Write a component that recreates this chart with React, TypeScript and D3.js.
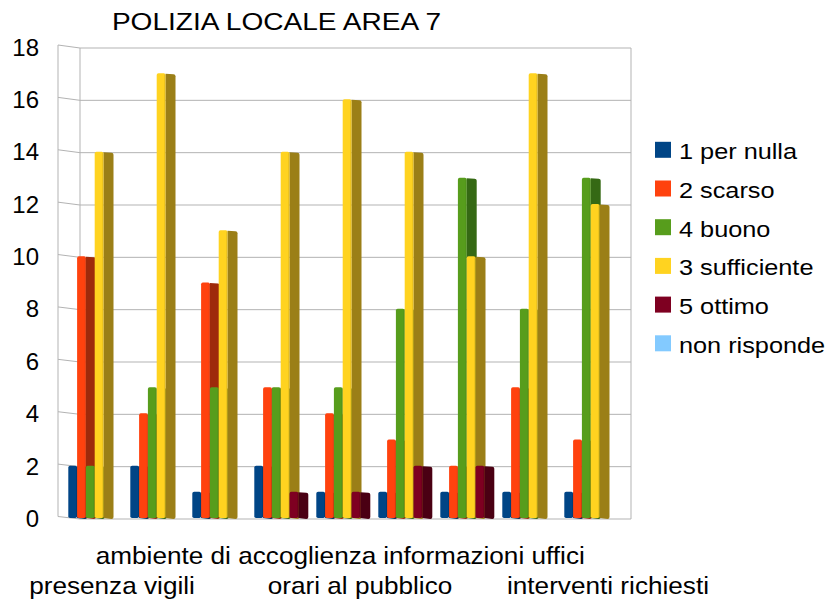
import React from "react";
import * as d3 from "d3";

const title = "POLIZIA LOCALE AREA 7";
const categories = ["presenza vigili", "", "ambiente di accoglienza", "", "orari al pubblico", "", "informazioni uffici", "", "interventi richiesti"];
const seriesNames = ["1 per nulla", "2 scarso", "4 buono", "3 sufficiente", "5 ottimo", "non risponde"];
const perNulla = [2, 2, 1, 2, 1, 1, 1, 1, 1];
const scarso = [10, 4, 9, 5, 4, 3, 2, 5, 3];
const buono = [2, 5, 5, 5, 5, 8, 13, 8, 13];
const sufficiente = [14, 17, 11, 14, 16, 14, 10, 17, 12];
const ottimo = [0, 0, 0, 1, 1, 2, 2, 0, 0];
const nonRisponde = [0, 0, 0, 0, 0, 0, 0, 0, 0];
const yTicks = [0, 2, 4, 6, 8, 10, 12, 14, 16, 18];

const seriesValues = [perNulla, scarso, buono, sufficiente, ottimo, nonRisponde];
const frontColors = ["#004586", "#ff420e", "#579d1c", "#ffd320", "#7e0021", "#83caff"];
const sideColors = ["#002c57", "#9e2a0b", "#356914", "#9b7f17", "#4a0013", "#5a8ab0"];

const FONT = "'Liberation Sans', Arial, sans-serif";

export default function App() {
  const x = d3.scaleBand<number>().domain(d3.range(categories.length)).range([58, 616]).paddingInner(0).paddingOuter(0);
  const inner = d3.scaleBand<string>().domain(seriesNames).range([10.3, 10.3 + 6 * 8.8]);
  const yB = d3.scaleLinear().domain([0, 18]).range([519, 48]);
  const yF = d3.scaleLinear().domain([0, 18]).range([516.5, 45]);
  const yBar = d3.scaleLinear().domain([0, 18]).range([518, 47]);
  const wallL = 58, wallB = 80, wallR = 631;
  const depth = 10;
  const grid = "#b3b3b3";

  const bars: JSX.Element[] = [];
  categories.forEach((_, ci) => {
    seriesNames.forEach((s, si) => {
      const v = seriesValues[si][ci];
      if (!v) return;
      const x0 = (x(ci) as number) + (inner(s) as number);
      const w = inner.bandwidth();
      const x1 = x0 + w;
      const yt = yBar(v);
      const y0 = yBar(0);
      const side = `M${x1},${yt + 0.5} L${x1 + depth - 2},${yt + 1} Q${x1 + depth},${yt + 1.2} ${x1 + depth},${yt + 3} L${x1 + depth},${y0 - 1} Q${x1 + depth},${y0 + 1} ${x1 + depth - 2},${y0 + 1} L${x1},${y0} Z`;
      bars.push(
        <g key={`${ci}-${si}`}>
          <path d={side} fill={sideColors[si]} />
          <rect x={x0} y={yt} width={w} height={y0 - yt} rx={1.8} fill={frontColors[si]} />
          <line x1={x1 - 0.5} x2={x1 - 0.5} y1={yt + 1.5} y2={y0 - 1} stroke={sideColors[si]} strokeOpacity={0.35} strokeWidth={1} />
        </g>
      );
    });
  });

  return (
    <svg width={831} height={602} style={{ position: "absolute", left: 0, top: 0, background: "#fff" }} fontFamily={FONT}>
      <rect width={831} height={602} fill="#fff" />
      <g transform="translate(276.5,30) scale(1.17,1)">
        <text x={0} y={0} fontSize={24} textAnchor="middle" fill="#000">{title}</text>
      </g>

      {/* walls */}
      <g stroke={grid} strokeWidth={1} fill="none">
        {yTicks.map(t => (
          <g key={t}>
            <line x1={wallL} y1={yF(t)} x2={wallB} y2={yB(t)} />
            <line x1={wallB} y1={yB(t)} x2={wallR} y2={yB(t)} />
          </g>
        ))}
        <line x1={wallL} y1={yF(18)} x2={wallL} y2={yF(0)} />
        <line x1={wallB} y1={yB(18)} x2={wallB} y2={yB(0)} />
        <line x1={wallR} y1={yB(18)} x2={wallR} y2={yB(0)} />
      </g>

      {bars}

      {yTicks.map(t => (
        <text key={t} x={39} y={yF(t) + 2} fontSize={24} textAnchor="end" dominantBaseline="central" fill="#000">{t}</text>
      ))}

      {categories.map((c, ci) => {
        if (!c) return null;
        const k = ci / 2;
        const yy = k % 2 === 0 ? 594 : 564;
        const cx = (x(ci) as number) + x.bandwidth() / 2 + 23;
        return (
          <g key={ci} transform={`translate(${cx},${yy}) scale(1.09,1)`}>
            <text x={0} y={0} fontSize={24} textAnchor="middle" fill="#000">{c}</text>
          </g>
        );
      })}

      {seriesNames.map((s, i) => (
        <g key={s} transform={`translate(655, ${159.3 + i * 38.7})`}>
          <rect x={0} y={-17.5} width={16} height={16} fill={frontColors[i]} />
          <g transform="translate(24,0) scale(1.15,1)">
            <text x={0} y={0} fontSize={22} fill="#000">{s}</text>
          </g>
        </g>
      ))}
    </svg>
  );
}
